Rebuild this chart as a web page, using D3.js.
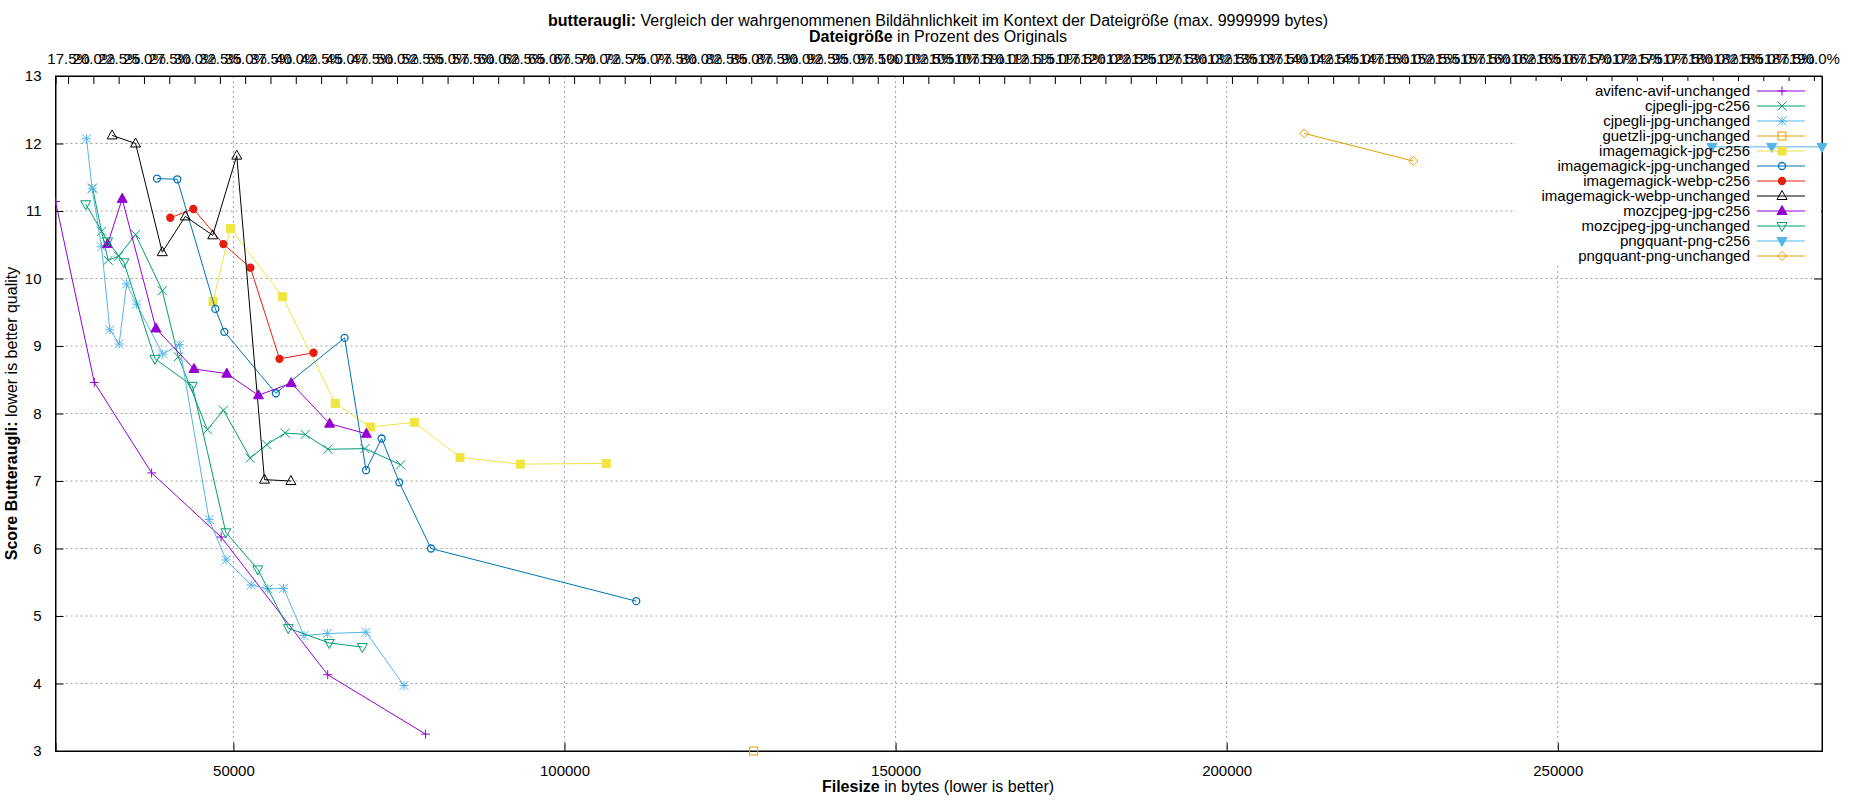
<!DOCTYPE html>
<html><head><meta charset="utf-8">
<script src="https://cdn.jsdelivr.net/npm/d3@7"></script>
<style>body{margin:0;background:#fff}text{font-family:"Liberation Sans",Arial,sans-serif}</style>
</head><body><svg id="chart" width="1850" height="800"></svg>
<script>
// series, in the order of the legend
const seriesNames = ["avifenc-avif-unchanged","cjpegli-jpg-c256","cjpegli-jpg-unchanged","guetzli-jpg-unchanged",
  "imagemagick-jpg-c256","imagemagick-jpg-unchanged","imagemagick-webp-c256","imagemagick-webp-unchanged",
  "mozcjpeg-jpg-c256","mozcjpeg-jpg-unchanged","pngquant-png-c256","pngquant-png-unchanged"];
const seriesColors = ["#9400d3","#009e73","#56b4e9","#e69f00","#f0e442","#0072b2","#e51e10","#000000",
  "#9400d3","#009e73","#56b4e9","#e69f00"];
const seriesMarks = ["plus","cross","star","square","squareF","circle","circleF","tri","triF","dtri","dtriF","diamond"];

// [filesize, score]
const avifUnchanged = [[23135,11.14],[29000,8.46],[37650,7.12],[48140,6.17],[64240,4.13],[79020,3.25]];
const cjpegliC256 = [[28730,11.34],[30090,10.70],[31090,10.27],[32660,10.33],[35230,10.65],[39260,9.82],[41680,8.84],
  [46070,7.76],[48490,8.05],[52530,7.34],[55050,7.54],[57820,7.71],[60850,7.69],[64280,7.47],[69870,7.48],[75260,7.24]];
const cjpegliUnchanged = [[27820,12.07],[28670,11.33],[30090,10.47],[31340,9.24],[32750,9.03],[33870,9.92],[35380,9.62],
  [39320,8.88],[41830,9.02],[46320,6.43],[48890,5.83],[52680,5.46],[55200,5.40],[57570,5.41],[60660,4.71],[64180,4.74],[70020,4.76],[75760,3.97]];
const guetzliUnchanged = [[128570,3.0]];
const imJpgC256 = [[46930,9.66],[49550,10.74],[57410,9.73],[65390,8.15],[70680,7.80],[77320,7.87],[84220,7.35],[93320,7.25],[106310,7.26]];
const imJpgUnchanged = [[38460,11.48],[41530,11.47],[47280,9.55],[48640,9.21],[56410,8.30],[66790,9.12],[70030,7.16],
  [72390,7.63],[75050,6.98],[79840,6.00],[110840,5.22]];
const imWebpC256 = [[40470,10.90],[43950,11.03],[48490,10.51],[52570,10.16],[56960,8.81],[62100,8.90]];
const imWebpUnchanged = [[31690,12.12],[35230,12.00],[39260,10.39],[42740,10.92],[46880,10.64],[50510,11.82],[54690,7.02],[58680,7.00]];
const mozC256 = [[31000,10.51],[33210,11.18],[38300,9.26],[44050,8.66],[49000,8.59],[53780,8.27],[58730,8.45],[64530,7.85],[70080,7.70]];
const mozUnchanged = [[27710,11.10],[31000,10.55],[33460,10.24],[38150,8.81],[43800,8.41],[48850,6.24],[53690,5.69],[58290,4.82],[64480,4.60],[69470,4.54]];
const pngquantC256 = [[273280,11.95],[282310,11.95],[289900,11.95]];
const pngquantUnchanged = [[211720,12.15],[228180,11.74]];
const seriesData = [avifUnchanged,cjpegliC256,cjpegliUnchanged,guetzliUnchanged,imJpgC256,imJpgUnchanged,
  imWebpC256,imWebpUnchanged,mozC256,mozUnchanged,pngquantC256,pngquantUnchanged];

const xTicks = [50000,100000,150000,200000,250000];
const yTicks = [3,4,5,6,7,8,9,10,11,12,13];
const topTicks = d3.range(0,70).map(i => 17.5 + i*2.5); // percent of original, 17.5 .. 190.0

const L = 55.5, R = 1822, T = 76, B = 751;
const svg = d3.select("#chart");
const x = d3.scaleLinear().domain([23135,289900]).range([L,R]);
const y = d3.scaleLinear().domain([3,13]).range([B,T]);
const x2 = d3.scaleLinear().domain([16.26,190.8]).range([L,R]);

// grid
const grid = svg.append("g").attr("stroke","#a0a0a0").attr("stroke-dasharray","2,3").attr("stroke-width",1);
xTicks.forEach(t => grid.append("line").attr("x1",x(t)).attr("x2",x(t)).attr("y1",T).attr("y2",B));
yTicks.slice(1,-1).forEach(t => grid.append("line").attr("x1",L).attr("x2",R).attr("y1",y(t)).attr("y2",y(t)));

// axes
const fmt = d => d;
svg.append("g").attr("transform",`translate(0,${B})`).call(d3.axisBottom(x).tickValues(xTicks).tickSize(-8).tickPadding(14).tickFormat(fmt));
svg.append("g").attr("transform",`translate(${L},0)`).call(d3.axisLeft(y).tickValues(yTicks).tickSize(-8).tickPadding(14).tickFormat(fmt));
svg.append("g").attr("transform",`translate(${R},0)`).call(d3.axisRight(y).tickValues(yTicks).tickSize(-8).tickFormat(""));
svg.append("g").attr("transform",`translate(0,${T})`).call(d3.axisTop(x2).tickValues(topTicks).tickSize(-8).tickPadding(12).tickFormat(d => d.toFixed(1)+"%"));
svg.selectAll(".domain").attr("stroke","#000");
svg.selectAll(".tick text").attr("font-size",15).attr("fill","#000").attr("font-family","Liberation Sans, Arial, sans-serif");
svg.selectAll(".tick line").attr("stroke","#000");
svg.append("rect").attr("x",L).attr("y",T).attr("width",R-L).attr("height",B-T).attr("fill","none").attr("stroke","#000");

// legend background (opaque)
svg.append("rect").attr("x",1516).attr("y",81).attr("width",R-1516-1).attr("height",183).attr("fill","#fff");

function mark(g, type, cx, cy, color) {
  const s = 4.5;
  const p = g.append("g").attr("transform",`translate(${cx},${cy})`);
  const filled = type.endsWith("F");
  const base = type.replace("F","");
  const fill = filled ? color : "none";
  if (base === "plus") p.append("path").attr("d",`M${-s},0H${s}M0,${-s}V${s}`).attr("stroke",color);
  else if (base === "cross") p.append("path").attr("d",`M${-s},${-s}L${s},${s}M${-s},${s}L${s},${-s}`).attr("stroke",color);
  else if (base === "star") p.append("path").attr("d",`M${-s},0H${s}M0,${-s}V${s}M${-s},${-s}L${s},${s}M${-s},${s}L${s},${-s}`).attr("stroke",color);
  else if (base === "square") p.append("rect").attr("x",-s+0.5).attr("y",-s+0.5).attr("width",2*s-1).attr("height",2*s-1).attr("fill",fill).attr("stroke",color);
  else if (base === "circle") p.append("circle").attr("r",s-1).attr("fill",fill).attr("stroke",color).attr("stroke-width",1.3);
  else if (base === "tri") p.append("path").attr("d",`M0,${-s-1}L${s+0.5},${s-1}L${-s-0.5},${s-1}Z`).attr("fill",fill).attr("stroke",color);
  else if (base === "dtri") p.append("path").attr("d",`M0,${s+1}L${s+0.5},${-s+1}L${-s-0.5},${-s+1}Z`).attr("fill",fill).attr("stroke",color);
  else if (base === "diamond") p.append("path").attr("d",`M0,${-s}L${s},0L0,${s}L${-s},0Z`).attr("fill",fill).attr("stroke",color);
}

// series
svg.append("clipPath").attr("id","plotclip").append("rect").attr("x",L).attr("y",T).attr("width",R-L+6).attr("height",B-T+6);
const plot = svg.append("g").attr("clip-path","url(#plotclip)");
const line = d3.line().x(d => x(d[0])).y(d => y(d[1]));
seriesData.forEach((data,i) => {
  plot.append("path").datum(data).attr("d",line).attr("fill","none").attr("stroke",seriesColors[i]).attr("stroke-width",1);
  data.forEach(d => mark(plot, seriesMarks[i], x(d[0]), y(d[1]), seriesColors[i]));
});

// legend
seriesNames.forEach((n,i) => {
  const ly = 91 + i*15;
  svg.append("text").attr("x",1750).attr("y",ly+5).attr("text-anchor","end").attr("font-size",15).text(n);
  svg.append("line").attr("x1",1757).attr("x2",1805).attr("y1",ly).attr("y2",ly).attr("stroke",seriesColors[i]);
  mark(svg, seriesMarks[i], 1782, ly, seriesColors[i]);
});

// titles
const t1 = svg.append("text").attr("x",938).attr("y",26).attr("text-anchor","middle").attr("font-size",16);
t1.append("tspan").attr("font-weight","bold").text("butteraugli:");
t1.append("tspan").text(" Vergleich der wahrgenommenen Bildähnlichkeit im Kontext der Dateigröße (max. 9999999 bytes)");
const t2 = svg.append("text").attr("x",938).attr("y",42).attr("text-anchor","middle").attr("font-size",16);
t2.append("tspan").attr("font-weight","bold").text("Dateigröße");
t2.append("tspan").text(" in Prozent des Originals");
const xl = svg.append("text").attr("x",938).attr("y",792).attr("text-anchor","middle").attr("font-size",16);
xl.append("tspan").attr("font-weight","bold").text("Filesize");
xl.append("tspan").text(" in bytes (lower is better)");
const yl = svg.append("text").attr("transform",`translate(17,${(T+B)/2}) rotate(-90)`).attr("text-anchor","middle").attr("font-size",16);
yl.append("tspan").attr("font-weight","bold").text("Score Butteraugli:");
yl.append("tspan").text(" lower is better quality");
</script></body></html>
